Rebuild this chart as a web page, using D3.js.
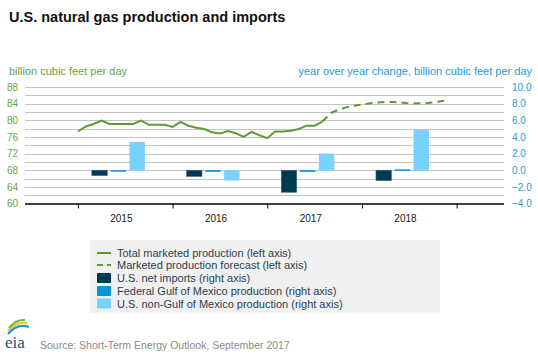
<!DOCTYPE html>
<html><head><meta charset="utf-8">
<script src="https://cdn.jsdelivr.net/npm/d3@7"></script>
<style>body{margin:0;background:#fff}svg{display:block;font-family:"Liberation Sans",Arial,sans-serif}</style>
</head><body><svg id="c" width="538" height="359"></svg>
<script>
// ---- data ----
const years = ["2015", "2016", "2017", "2018"];
const barSeries = ["U.S. net imports", "Federal Gulf of Mexico production", "U.S. non-Gulf of Mexico production"];
const netImports = [-0.65, -0.75, -2.65, -1.25];
const gulfProd = [-0.12, -0.2, -0.2, 0.1];
const nonGulfProd = [3.4, -1.25, 2.0, 4.85];
// monthly, Jan 2015 .. Aug 2017 (history)
const historyMonths = d3.range(0, 32);
const totalProduction = [77.3, 78.5, 79.1, 79.9, 79.1, 79.1, 79.1, 79.1, 79.9, 78.9, 78.9, 78.9,
  78.4, 79.6, 78.7, 78.2, 77.9, 77.1, 76.8, 77.4, 76.9, 76.0, 77.2, 76.4,
  75.7, 77.3, 77.3, 77.5, 77.9, 78.7, 78.7, 79.7];
// Aug 2017 .. Dec 2018 (forecast)
const forecastMonths = d3.range(31, 48);
const forecastProduction = [79.7, 81.7, 82.5, 83.1, 83.5, 83.8, 84.1, 84.3, 84.4, 84.4, 84.3, 84.1, 84.1, 84.1, 84.3, 84.6, 84.9];
const leftTicks = [60, 64, 68, 72, 76, 80, 84, 88];
const rightTicks = [-4, -2, 0, 2, 4, 6, 8, 10];

const colors = {green: "#5f9a33", navy: "#003953", gulf: "#0096d7", light: "#77d3fd", blueText: "#1a9cd8", greenText: "#6ea147"};
const barColors = [colors.navy, colors.gulf, colors.light];

const svg = d3.select("#c");
const L = 25, R = 504, T = 87, B = 203.5;

const x = d3.scaleLinear().domain([-6.7, 54]).range([L, R]);
const yL = d3.scaleLinear().domain([60, 88]).range([B, T]);
const yR = d3.scaleLinear().domain([-4, 10]).range([B, T]);
const xYear = d3.scaleBand().domain(years).range([x(0), x(48)]);
const xInner = d3.scaleBand().domain(barSeries).range([14, 67]).paddingInner(0.18);

// title
svg.append("text").attr("x", 9).attr("y", 22).attr("font-size", 14.5).attr("font-weight", "bold").attr("fill", "#111")
  .text("U.S. natural gas production and imports");
svg.append("text").attr("x", 9).attr("y", 75).attr("font-size", 11).attr("fill", colors.greenText).text("billion cubic feet per day");
svg.append("text").attr("x", 532).attr("y", 75).attr("font-size", 11).attr("fill", colors.blueText).attr("text-anchor", "end")
  .text("year over year change, billion cubic feet per day");

// gridlines
const gridVals = d3.range(60, 89, 2);
svg.append("g").selectAll("line").data(gridVals.filter(v => v > 60)).join("line")
  .attr("x1", L).attr("x2", R).attr("y1", d => Math.round(yL(d)) + 0.5).attr("y2", d => Math.round(yL(d)) + 0.5)
  .attr("stroke", "#c4c4c4").attr("stroke-width", 1);

// left axis labels
const gl = svg.append("g").attr("transform", `translate(${L},0)`)
  .call(d3.axisLeft(yL).tickValues(leftTicks).tickSize(0).tickPadding(7));
gl.select(".domain").remove();
gl.selectAll("text").attr("font-size", 10).attr("fill", colors.greenText).attr("font-family", null);

const gr = svg.append("g").attr("transform", `translate(${R},0)`)
  .call(d3.axisRight(yR).tickValues(rightTicks).tickSize(0).tickPadding(8).tickFormat(d3.format(".1f")));
gr.select(".domain").remove();
gr.selectAll("text").attr("font-size", 10).attr("fill", colors.blueText).attr("font-family", null);

// bars
const barData = years.flatMap((yr, i) => [
  {yr, s: barSeries[0], v: netImports[i], c: barColors[0]},
  {yr, s: barSeries[1], v: gulfProd[i], c: barColors[1]},
  {yr, s: barSeries[2], v: nonGulfProd[i], c: barColors[2]}
]);
svg.append("g").selectAll("rect").data(barData).join("rect")
  .attr("x", d => xYear(d.yr) + xInner(d.s))
  .attr("width", xInner.bandwidth())
  .attr("y", d => yR(Math.max(0, d.v)))
  .attr("height", d => Math.max(1.5, Math.abs(yR(d.v) - yR(0))))
  .attr("fill", d => d.c)
  .attr("stroke", d => d.c === colors.navy ? "#3d6a80" : "none").attr("stroke-width", 0.6);

// x axis
const gx = svg.append("g").attr("transform", `translate(0,${B})`)
  .call(d3.axisBottom(x).tickValues([0, 12, 24, 36, 48]).tickSize(5).tickFormat(""));
gx.select(".domain").attr("d", `M${L},0.5H${R}`).attr("stroke", "#000").attr("stroke-width", 1.3);
gx.selectAll(".tick line").attr("stroke", "#000");
svg.append("g").selectAll("text").data(years).join("text")
  .attr("x", d => xYear(d) + 43.5).attr("y", 222).attr("text-anchor", "middle")
  .attr("font-size", 10).attr("fill", "#222").text(d => d);

// lines
const line = d3.line().x(d => x(d[0])).y(d => yL(d[1]));
svg.append("path").datum(historyMonths.map((m, i) => [m, totalProduction[i]]))
  .attr("d", line).attr("fill", "none").attr("stroke", colors.green).attr("stroke-width", 2);
svg.append("path").datum(forecastMonths.map((m, i) => [m, forecastProduction[i]]))
  .attr("d", line).attr("fill", "none").attr("stroke", colors.green).attr("stroke-width", 2).attr("stroke-dasharray", "7,5");

// legend
const lg = svg.append("g");
lg.append("rect").attr("x", 90).attr("y", 240).attr("width", 350).attr("height", 73).attr("fill", "#f0f0f0");
const legendItems = [
  {t: "Total marketed production (left axis)", k: "line"},
  {t: "Marketed production forecast (left axis)", k: "dash"},
  {t: "U.S. net imports (right axis)", k: "rect", c: colors.navy},
  {t: "Federal Gulf of Mexico production (right axis)", k: "rect", c: colors.gulf},
  {t: "U.S. non-Gulf of Mexico production (right axis)", k: "rect", c: colors.light}
];
const ly = [253, 265, 278, 291, 303.5];
legendItems.forEach((d, i) => {
  const y = ly[i];
  if (d.k === "line") lg.append("line").attr("x1", 97).attr("x2", 111).attr("y1", y).attr("y2", y).attr("stroke", colors.green).attr("stroke-width", 2);
  else if (d.k === "dash") lg.append("line").attr("x1", 97).attr("x2", 111).attr("y1", y).attr("y2", y).attr("stroke", colors.green).attr("stroke-width", 2).attr("stroke-dasharray", "6,4");
  else lg.append("rect").attr("x", 97).attr("y", y - 5).attr("width", 14).attr("height", 10).attr("rx", 1).attr("fill", d.c);
  lg.append("text").attr("x", 117).attr("y", y + 4).attr("font-size", 11).attr("fill", "#2b3e50").text(d.t);
});

// footer
const logo = svg.append("g");
logo.append("path").attr("d", "M8,334 Q17,323 29,327").attr("fill", "none").attr("stroke", "#1b9ad6").attr("stroke-width", 2.2);
logo.append("path").attr("d", "M8,331 Q16,321 27,323").attr("fill", "none").attr("stroke", "#f3c319").attr("stroke-width", 2);
logo.append("path").attr("d", "M9,328 Q16,319 25,320").attr("fill", "none").attr("stroke", "#74b843").attr("stroke-width", 2);
logo.append("text").attr("x", 5).attr("y", 348).attr("font-family", "'Liberation Serif',serif").attr("font-size", 17).attr("fill", "#1b4f8a").text("eia");
svg.append("text").attr("x", 40).attr("y", 349).attr("font-size", 10.5).attr("fill", "#8a8a8a")
  .text("Source: Short-Term Energy Outlook, September 2017");
</script></body></html>
